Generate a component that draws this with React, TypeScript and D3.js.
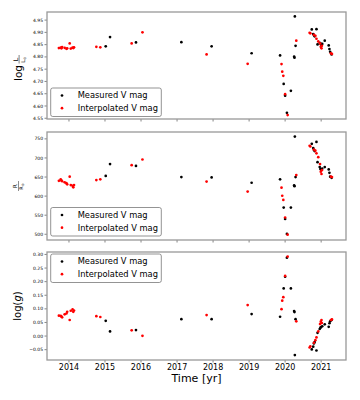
import * as d3 from "d3";

// observation epochs and derived stellar parameters
const measuredT = [
  2015.02, 2015.14, 2015.86, 2017.12, 2017.96, 2019.07, 2019.86, 2019.96, 2020.0, 2020.05,
  2020.16, 2020.25, 2020.26, 2020.27, 2020.29, 2020.74, 2020.78, 2020.8, 2020.82, 2020.87,
  2020.9, 2020.96, 2020.98, 2021.0, 2021.03, 2021.1, 2021.21, 2021.23, 2021.25, 2021.29,
];
const measuredL = [
  4.843, 4.881, 4.859, 4.86, 4.843, 4.815, 4.806, 4.69, 4.642, 4.572,
  4.662, 4.801, 4.797, 4.965, 4.845, 4.912, 4.893, 4.889, 4.884, 4.913,
  4.851, 4.857, 4.855, 4.85, 4.853, 4.866, 4.847, 4.832, 4.821, 4.81,
];
const measuredR = [
  653, 684, 679, 650, 649, 635, 644, 570, 540, 501,
  570, 628, 626, 756, 650, 737, 726, 721, 718, 742,
  689, 676, 671, 669, 672, 676, 670, 661, 651, 648,
];
const measuredG = [
  0.056, 0.017, 0.022, 0.062, 0.062, 0.081, 0.071, 0.175, 0.218, 0.288,
  0.175, 0.092, 0.088, -0.07, 0.062, -0.049, -0.039, -0.027, -0.022, -0.053,
  0.012, 0.026, 0.031, 0.033, 0.036, 0.043, 0.034, 0.047, 0.054, 0.059,
];

const interpT = [
  2013.72, 2013.77, 2013.79, 2013.81, 2013.88, 2013.93, 2013.95, 2014.02, 2014.05, 2014.1,
  2014.12, 2014.14, 2014.76, 2014.87, 2015.74, 2016.04, 2017.82, 2018.96, 2019.9, 2019.92,
  2019.95, 2020.0, 2020.07, 2020.31, 2020.68, 2020.7, 2020.8, 2020.84, 2020.87, 2020.92,
  2020.97, 2020.99, 2021.01, 2021.02, 2021.27, 2021.3,
];
const interpL = [
  4.836, 4.838, 4.835, 4.84, 4.837, 4.833, 4.835, 4.855, 4.834, 4.838,
  4.836, 4.839, 4.841, 4.839, 4.855, 4.9, 4.81, 4.772, 4.771, 4.74,
  4.723, 4.648, 4.563, 4.866, 4.898, 4.896, 4.89, 4.886, 4.874, 4.863,
  4.855, 4.841, 4.835, 4.845, 4.815, 4.812,
];
const interpR = [
  640, 644, 641, 639, 636, 634, 631, 651, 629, 627,
  623, 629, 642, 644, 681, 696, 638, 612, 622, 601,
  590, 544, 499, 655, 732, 730, 722, 719, 712, 702,
  684, 664, 658, 668, 651, 650,
];
const interpG = [
  0.075, 0.074, 0.072, 0.069, 0.08, 0.083, 0.089, 0.059, 0.093, 0.098,
  0.089, 0.094, 0.073, 0.07, 0.021, 0.001, 0.077, 0.114, 0.099, 0.13,
  0.143, 0.221, 0.292, 0.054, -0.042, -0.038, -0.025, -0.015, -0.005, 0.017,
  0.044, 0.053, 0.059, 0.048, 0.059, 0.061,
];

const yearTicks = [2014, 2015, 2016, 2017, 2018, 2019, 2020, 2021];
const lTicks = [4.55, 4.6, 4.65, 4.7, 4.75, 4.8, 4.85, 4.9, 4.95];
const rTicks = [500, 550, 600, 650, 700, 750];
const gTicks = [-0.05, 0, 0.05, 0.1, 0.15, 0.2, 0.25, 0.3];

const FONT = "DejaVu Sans";
const left = 47;
const right = 346;

const x = d3.scaleLinear().domain([2013.39, 2021.69]).range([left, right]);

type PanelProps = {
  top: number;
  bottom: number;
  domain: [number, number];
  ticks: number[];
  fmt: (v: number) => string;
  measured: number[];
  interp: number[];
  legendTop: number;
  showX: boolean;
};

function Panel(p: PanelProps) {
  const y = d3.scaleLinear().domain(p.domain).range([p.bottom, p.top]);
  const lx = 50.7;
  const lw = 110.6;
  const lh = 28.5;
  return (
    <g>
      {/* y ticks */}
      {p.ticks.map((t) => (
        <g key={t} transform={`translate(0,${y(t)})`}>
          <line x1={left - 2.5} x2={left} stroke="#333" strokeWidth={0.6} />
          <text x={left - 4} dy="0.35em" fontSize={4.5} textAnchor="end" fontFamily={FONT}>
            {p.fmt(t)}
          </text>
        </g>
      ))}
      {/* x ticks */}
      {yearTicks.map((t) => (
        <g key={t} transform={`translate(${x(t)},${p.bottom})`}>
          <line y1={0} y2={2.5} stroke="#333" strokeWidth={0.6} />
          {p.showX && (
            <text y={9.5} fontSize={8} textAnchor="middle" fontFamily={FONT}>
              {t}
            </text>
          )}
        </g>
      ))}
      {/* points */}
      {measuredT.map((t, i) => (
        <circle key={"m" + i} cx={x(t)} cy={y(p.measured[i])} r={1.35} fill="#000" />
      ))}
      {interpT.map((t, i) => (
        <circle key={"i" + i} cx={x(t)} cy={y(p.interp[i])} r={1.35} fill="#ff0000" />
      ))}
      {/* frame */}
      <rect
        x={left}
        y={p.top}
        width={right - left}
        height={p.bottom - p.top}
        fill="none"
        stroke="#999"
        strokeWidth={1.3}
      />
      {/* legend */}
      <g transform={`translate(${lx},${p.legendTop})`} fontFamily={FONT} fontSize={8.3}>
        <rect width={lw} height={lh} rx={2} fill="#fff" fillOpacity={0.85} stroke="#666" strokeWidth={0.7} />
        <circle cx={11.3} cy={7.5} r={1.35} fill="#000" />
        <text x={27} y={7.5} dy="0.35em">Measured V mag</text>
        <circle cx={11.3} cy={20.2} r={1.35} fill="#ff0000" />
        <text x={27} y={20.2} dy="0.35em">Interpolated V mag</text>
      </g>
    </g>
  );
}

const fmt2 = (v: number) => (v < 0 ? "\u2212" : "") + Math.abs(v).toFixed(2);

export default function App() {
  return (
    <svg
      width={360}
      height={400}
      style={{ position: "absolute", left: 0, top: 0, background: "#fff" }}
      fontFamily={FONT}
    >
      <Panel
        top={12}
        bottom={119}
        domain={[4.547, 4.983]}
        ticks={lTicks}
        fmt={(v) => v.toFixed(2)}
        measured={measuredL}
        interp={interpL}
        legendTop={88}
        showX={false}
      />
      <Panel
        top={132}
        bottom={240}
        domain={[485, 768]}
        ticks={rTicks}
        fmt={(v) => String(v)}
        measured={measuredR}
        interp={interpR}
        legendTop={207.5}
        showX={false}
      />
      <Panel
        top={252}
        bottom={360}
        domain={[-0.088, 0.309]}
        ticks={gTicks}
        fmt={fmt2}
        measured={measuredG}
        interp={interpG}
        legendTop={254}
        showX={true}
      />

      {/* y label: log L/Lsun */}
      <g transform="translate(21.5,81) rotate(-90)">
        <text x={0} y={0} fontSize={10.5}>log</text>
        <text x={21.5} y={-3.8} fontSize={6.3} textAnchor="middle">L</text>
        <line x1={17.5} x2={26} y1={-2.4} y2={-2.4} stroke="#000" strokeWidth={0.5} />
        <text x={21.2} y={3} fontSize={5.3} textAnchor="middle">
          L<tspan fontSize={3.6} dy={1}>⊙</tspan>
        </text>
      </g>

      {/* y label: R/Rsun */}
      <g transform="translate(18.7,186) rotate(-90)">
        <text x={0} y={-1.3} fontSize={5.5} textAnchor="middle">R</text>
        <line x1={-5} x2={5} y1={-0.2} y2={-0.2} stroke="#000" strokeWidth={0.45} />
        <text x={-0.5} y={4.3} fontSize={5} textAnchor="middle">
          R<tspan fontSize={3.5} dy={1}>⊙</tspan>
        </text>
      </g>

      {/* y label: log(g) */}
      <text transform="translate(21,306) rotate(-90)" fontSize={10} textAnchor="middle">
        log(<tspan fontStyle="italic">g</tspan>)
      </text>

      <text x={196.5} y={382} fontSize={11} textAnchor="middle">
        Time [yr]
      </text>
    </svg>
  );
}
